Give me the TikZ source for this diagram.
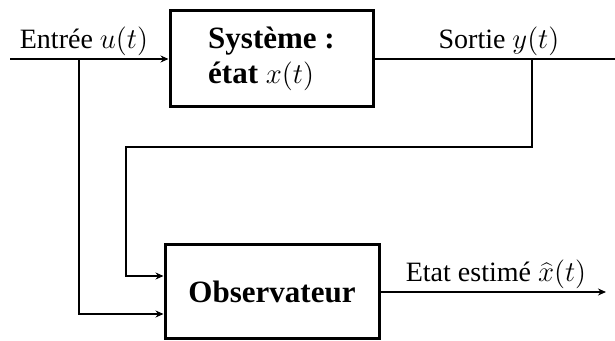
\documentclass[tikz,border=0pt]{standalone}
\usepackage{fontspec}
\setmainfont{Liberation Serif}
\usepackage{tikz}
\usetikzlibrary{arrows.meta,positioning,calc}
\tikzset{
  blk/.style={draw,line width=1.5pt,align=left,font=\fontsize{15.5}{17.5}\selectfont\bfseries,inner sep=0pt},
  lab/.style={font=\fontsize{14}{16}\selectfont,inner sep=1.5pt},
  ln/.style={line width=0.75pt},
  arr/.style={-{Stealth[length=4pt,width=3.5pt]},line width=0.75pt},
}

\begin{document}
\begin{tikzpicture}[x=0.5pt,y=0.5pt]
\useasboundingbox (0,0) rectangle (615,341);
\node[blk,minimum width=101.5pt,minimum height=48pt] (sys) at (271.5,282) {Système :\\ état $x(t)$};
\node[blk,minimum width=107pt,minimum height=47pt] (obs) at (272,49) {Observateur};
\coordinate (in) at (10,282);
\coordinate (ub) at (79,282);
\coordinate (out) at (615,282);
\coordinate (fb) at (532,282);
\coordinate (fbc) at (126,194);
\coordinate (est) at (606,49);
\draw[arr] (in) -- (sys.west);
\draw[ln] (sys.east) -- (out);
\draw[arr] (fb) |- (fbc) |- ([yshift=8pt]obs.west);
\draw[arr] (ub) |- ([yshift=-11pt]obs.west);
\draw[arr] (obs.east) -- (est);
% labels
\node[lab,above] (lin) at (84,282) {Entrée $u(t)$};
\node[lab,above] (lout) at (499,282) {Sortie $y(t)$};
\node[lab,above] (lest) at (496,49) {Etat estimé $\widehat{x}(t)$};
\end{tikzpicture}
\end{document}
